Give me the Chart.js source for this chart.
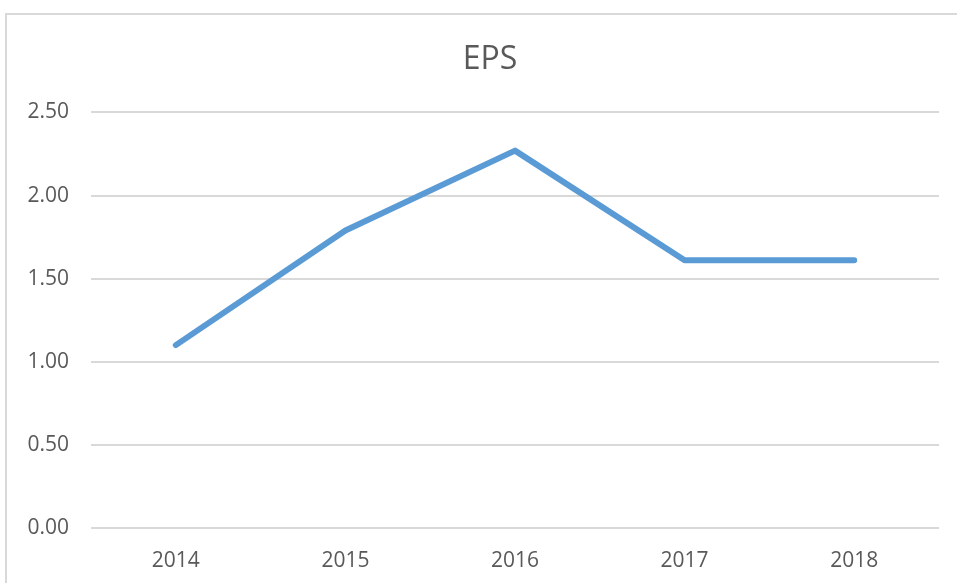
<!DOCTYPE html>
<html>
<head>
<meta charset="utf-8">
<script src="https://cdn.jsdelivr.net/npm/chart.js@4"></script>
<style>
    body { margin: 0; background: #fff; overflow: hidden; }
    .wrap { position: relative; width: 957px; height: 583px; overflow: hidden; }
    .frame { position: absolute; left: 5px; top: 13px; right: 0; bottom: 0; border-left: 2px solid #d9d9d9; border-top: 2px solid #d9d9d9; }
    canvas { position: absolute; left: 0; top: 0; }
</style>
</head>
<body>
<div class="wrap">
    <div class="frame"></div>
    <canvas id="epsChart" width="957" height="583"></canvas>
</div>
<script>
const years = ['2014', '2015', '2016', '2017', '2018'];
const epsValues = [1.10, 1.79, 2.27, 1.61, 1.61];
const yTicks = [0, 0.5, 1, 1.5, 2, 2.5];

const fontFamily = '"Open Sans", sans-serif';
const textColor = '#595959';

// title in the original sits centred over the plot, not the whole canvas
const titleShift = {
    id: 'titleShift',
    afterLayout(chart) {
        if (chart.titleBlock) chart.titleBlock.left = 41;
    }
};

const ctx = document.getElementById('epsChart').getContext('2d');
const epsChart = new Chart(ctx, {
    type: 'line',
    data: {
        labels: years,
        datasets: [{
            label: 'EPS',
            data: epsValues,
            borderColor: '#5b9bd5',
            borderWidth: 6,
            borderCapStyle: 'round',
            borderJoinStyle: 'round',
            pointRadius: 0,
            tension: 0,
            fill: false
        }]
    },
    options: {
        responsive: false,
        animation: false,
        layout: { padding: { left: 0, right: 18, top: 0, bottom: 0 } },
        plugins: {
            legend: { display: false },
            tooltip: { enabled: false },
            title: {
                display: true,
                text: 'EPS',
                color: textColor,
                font: { family: fontFamily, size: 32, weight: 'normal' },
                padding: { top: 41, bottom: 33 }
            }
        },
        scales: {
            x: {
                offset: true,
                grid: { display: false, drawTicks: false },
                border: { display: false },
                ticks: {
                    color: textColor,
                    font: { family: fontFamily, size: 21 },
                    padding: 20
                },
                afterFit(scale) { scale.height = 55; }
            },
            y: {
                min: 0,
                max: 2.5,
                afterBuildTicks(scale) {
                    scale.ticks = yTicks.map(v => ({ value: v }));
                },
                grid: { color: '#d9d9d9', lineWidth: 2, drawTicks: false },
                border: { display: false },
                ticks: {
                    color: textColor,
                    font: { family: fontFamily, size: 21 },
                    padding: 22,
                    callback: function(value) {
                        return Number(value).toFixed(2);
                    }
                },
                afterFit(scale) { scale.width = 91; }
            }
        }
    },
    plugins: [titleShift]
});
</script>
</body>
</html>
